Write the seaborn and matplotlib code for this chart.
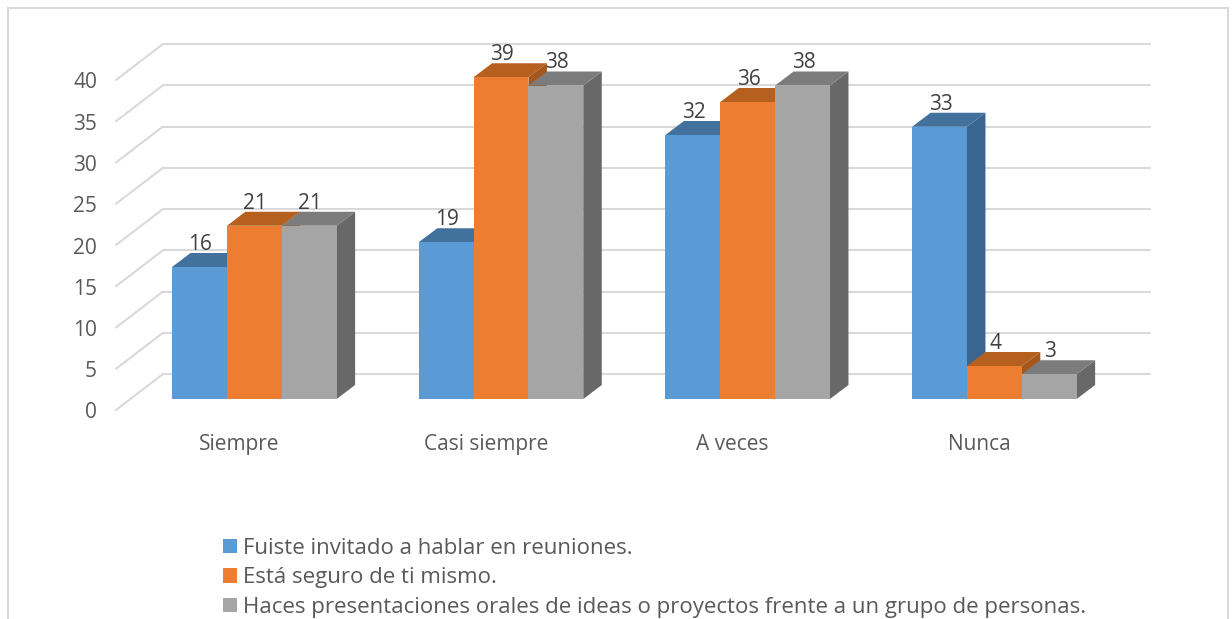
import matplotlib
matplotlib.use('Agg')
import matplotlib.pyplot as plt
import matplotlib.transforms as mtrans
import pandas as pd
import seaborn as sns
from matplotlib.lines import Line2D
from matplotlib.patches import Polygon

categorias = ['Siempre', 'Casi siempre', 'A veces', 'Nunca']
series = ['Fuiste invitado a hablar en reuniones.',
          'Está seguro de ti mismo.',
          'Haces presentaciones orales de ideas o proyectos frente a un grupo de personas.']
invitado = [16, 19, 32, 33]
seguro = [21, 39, 36, 4]
presentaciones = [21, 38, 38, 3]
y_ticks = [0, 5, 10, 15, 20, 25, 30, 35, 40]

col_frente = ['#5B9BD5', '#ED7D31', '#A5A5A5']
col_arriba = ['#41719C', '#B5601F', '#7C7C7C']
col_lado = ['#3A6590', '#A5571C', '#686868']
gris_grid = '#D9D9D9'
gris_texto = '#595959'

sns.set_theme(style='white')
plt.rcParams['font.family'] = ['Open Sans', 'DejaVu Sans']

df = pd.DataFrame({'cat': categorias, series[0]: invitado, series[1]: seguro, series[2]: presentaciones})
dd = pd.melt(df, id_vars='cat', var_name='serie', value_name='valor')

W, H = 1232, 619
fig = plt.figure(figsize=(W / 100, H / 100), dpi=100)
ax = fig.add_axes([131 / W, (H - 399) / H, 986.7 / W, 330 / H])

sns.barplot(data=dd, x='cat', y='valor', hue='serie', palette=col_frente, saturation=1,
            width=0.667, gap=0, dodge=True, linewidth=0, edgecolor='none', ax=ax)
ax.set_xlim(-0.5, 3.5)
ax.set_ylim(0, 40)
ax.set_xlabel('')
ax.set_ylabel('')

# pixeles -> unidades de datos
px_x = 4 / 986.7
px_y = 40 / 330

# pared del fondo y piso
for v in y_ticks:
    ax.add_line(Line2D([-0.5 + 32 * px_x, 3.5 + 32 * px_x], [v + 25 * px_y, v + 25 * px_y],
                       color=gris_grid, lw=1.5, clip_on=False, zorder=1))
    ax.add_line(Line2D([-0.5 - 15 * px_x, -0.5 + 32 * px_x], [v - 11 * px_y, v + 25 * px_y],
                       color=gris_grid, lw=1.5, clip_on=False, zorder=1))

# caras 3D de cada barra, de izquierda a derecha
dx = 18.5 * px_x
dy = 14 * px_y
barras = [p for p in ax.patches if p.get_height() > 0]
barras = sorted(barras, key=lambda p: p.get_x())
for i, p in enumerate(barras):
    serie = col_frente.index(matplotlib.colors.to_hex(p.get_facecolor()).upper())
    x0, x1, h = p.get_x(), p.get_x() + p.get_width(), p.get_height()
    z = 3 + i * 0.1
    ax.add_patch(Polygon([(x1, 0), (x1 + dx, dy), (x1 + dx, h + dy), (x1, h)],
                         fc=col_lado[serie], ec='none', clip_on=False, zorder=z))
    ax.add_patch(Polygon([(x0, h), (x1, h), (x1 + dx, h + dy), (x0 + dx, h + dy)],
                         fc=col_arriba[serie], ec='none', clip_on=False, zorder=z))
    p.set_zorder(z + 0.01)
    ax.annotate(str(int(h)), (x0 + (x1 - x0) / 2, h), xytext=(1, 22.5), textcoords='offset pixels',
                ha='center', va='center', fontsize=15, color='#404040', zorder=20)

# ejes
sns.despine(ax=ax, left=True, bottom=True, top=True, right=True)
ax.set_yticks(y_ticks)
ax.set_yticklabels([str(v) for v in y_ticks])
ax.set_xticks(range(len(categorias)))
ax.set_xticklabels(categorias)
ax.tick_params(axis='x', length=0, pad=25, labelsize=15, labelcolor=gris_texto)
ax.tick_params(axis='y', length=0, pad=24.5, labelsize=15, labelcolor=gris_texto)
for t in ax.get_xticklabels():
    t.set_transform(t.get_transform() + mtrans.Affine2D().translate(-15, 0))
for t in ax.get_yticklabels():
    t.set_transform(t.get_transform() + mtrans.Affine2D().translate(0, -11.5))

# leyenda
handles, labels = ax.get_legend_handles_labels()
ax.legend(handles, labels, frameon=False, loc='upper left', bbox_to_anchor=(223 / W, (H - 538) / H),
          bbox_transform=fig.transFigure, ncol=1, fontsize=16, labelcolor=gris_texto, title=None,
          borderpad=0, borderaxespad=0, handlelength=0.63, handleheight=0.63, handletextpad=0.27, labelspacing=0.38)

# marco del grafico (cortado abajo)
for xs, ys in [([8, 8], [8, H]), ([8, 1228], [8, 8]), ([1228, 1228], [8, H])]:
    fig.add_artist(Line2D([x / W for x in xs], [1 - y / H for y in ys], color=gris_grid, lw=1.5))

fig.savefig('out.png', dpi=100)
